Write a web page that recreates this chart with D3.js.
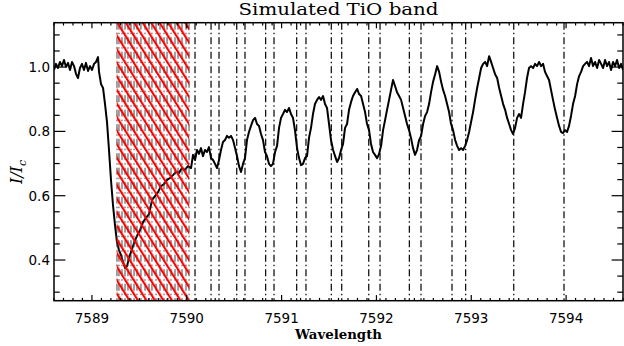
<!doctype html>
<head>
<style>
  body { margin: 0; background: #fff; }
  svg { display: block; }
  .tick-label { font-family: "DejaVu Sans", sans-serif; font-size: 13.5px; fill: #000; }
</style>
<script src="https://cdnjs.cloudflare.com/ajax/libs/d3/7.8.5/d3.min.js"></script>
</head>
<body>
<script>
// spectrum
var wave = [7588.600,7588.621,7588.642,7588.663,7588.684,7588.705,7588.727,7588.748,7588.769,7588.790,
  7588.811,7588.832,7588.853,7588.874,7588.895,7588.916,7588.937,7588.959,7588.980,7589.001,
  7589.022,7589.043,7589.064,7589.075,7589.096,7589.117,7589.138,7589.159,7589.180,7589.201,
  7589.222,7589.243,7589.264,7589.285,7589.306,7589.328,7589.349,7589.370,7589.391,7589.412,
  7589.444,7589.475,7589.507,7589.539,7589.570,7589.602,7589.634,7589.665,7589.697,7589.728,
  7589.760,7589.792,7589.823,7589.855,7589.887,7589.918,7589.950,7589.981,7590.013,7590.045,
  7590.066,7590.087,7590.108,7590.129,7590.150,7590.171,7590.192,7590.213,7590.234,7590.256,
  7590.277,7590.298,7590.319,7590.340,7590.361,7590.382,7590.403,7590.424,7590.445,7590.467,
  7590.488,7590.509,7590.530,7590.551,7590.572,7590.593,7590.614,7590.635,7590.656,7590.677,
  7590.699,7590.720,7590.741,7590.762,7590.783,7590.804,7590.825,7590.846,7590.867,7590.888,
  7590.909,7590.931,7590.952,7590.973,7590.994,7591.015,7591.036,7591.057,7591.078,7591.099,
  7591.120,7591.141,7591.163,7591.184,7591.205,7591.226,7591.247,7591.268,7591.289,7591.310,
  7591.331,7591.352,7591.374,7591.395,7591.416,7591.437,7591.458,7591.479,7591.500,7591.521,
  7591.543,7591.564,7591.585,7591.606,7591.627,7591.648,7591.669,7591.690,7591.711,7591.732,
  7591.753,7591.775,7591.796,7591.817,7591.838,7591.859,7591.880,7591.901,7591.922,7591.943,
  7591.964,7591.985,7592.007,7592.028,7592.049,7592.070,7592.091,7592.112,7592.133,7592.154,
  7592.175,7592.196,7592.217,7592.239,7592.260,7592.281,7592.302,7592.323,7592.344,7592.365,
  7592.386,7592.407,7592.428,7592.450,7592.471,7592.492,7592.513,7592.534,7592.555,7592.576,
  7592.597,7592.619,7592.640,7592.661,7592.682,7592.703,7592.724,7592.745,7592.766,7592.787,
  7592.808,7592.830,7592.851,7592.872,7592.893,7592.914,7592.935,7592.956,7592.977,7592.998,
  7593.019,7593.040,7593.062,7593.083,7593.104,7593.125,7593.146,7593.167,7593.188,7593.209,
  7593.230,7593.251,7593.273,7593.294,7593.315,7593.336,7593.357,7593.378,7593.399,7593.420,
  7593.441,7593.462,7593.483,7593.504,7593.525,7593.546,7593.567,7593.588,7593.609,7593.630,
  7593.652,7593.673,7593.694,7593.715,7593.736,7593.757,7593.778,7593.799,7593.820,7593.841,
  7593.862,7593.884,7593.905,7593.926,7593.947,7593.968,7593.989,7594.010,7594.031,7594.052,
  7594.073,7594.095,7594.116,7594.137,7594.158,7594.179,7594.200,7594.221,7594.242,7594.263,
  7594.284,7594.305,7594.327,7594.348,7594.369,7594.390,7594.411,7594.432,7594.453,7594.474,
  7594.495,7594.516,7594.537,7594.559,7594.580,7594.601];
var flux = [0.991,1.010,0.997,1.016,1.003,1.022,1.000,1.013,0.991,1.016,
  1.003,0.979,0.966,0.997,1.010,0.991,1.013,0.988,1.003,0.991,
  1.010,1.016,1.031,0.985,0.947,0.935,0.885,0.829,0.742,0.649,
  0.571,0.509,0.456,0.431,0.416,0.394,0.375,0.381,0.406,0.425,
  0.453,0.475,0.493,0.518,0.531,0.543,0.587,0.599,0.611,0.630,
  0.636,0.649,0.655,0.664,0.674,0.671,0.686,0.680,0.692,0.686,
  0.727,0.711,0.742,0.730,0.748,0.723,0.742,0.736,0.751,0.717,
  0.711,0.699,0.686,0.711,0.742,0.767,0.773,0.786,0.780,0.786,
  0.773,0.748,0.723,0.692,0.674,0.699,0.717,0.773,0.798,0.817,
  0.835,0.842,0.823,0.817,0.792,0.773,0.736,0.723,0.699,0.692,
  0.699,0.736,0.755,0.811,0.842,0.854,0.867,0.860,0.873,0.854,
  0.842,0.804,0.748,0.717,0.695,0.699,0.717,0.723,0.780,0.811,
  0.854,0.885,0.898,0.907,0.898,0.910,0.885,0.873,0.823,0.773,
  0.742,0.723,0.705,0.717,0.742,0.761,0.811,0.823,0.867,0.891,
  0.910,0.922,0.932,0.916,0.910,0.885,0.860,0.823,0.804,0.761,
  0.736,0.727,0.717,0.730,0.755,0.804,0.835,0.867,0.898,0.929,
  0.960,0.941,0.922,0.910,0.898,0.873,0.848,0.823,0.804,0.779,
  0.748,0.727,0.742,0.773,0.786,0.823,0.848,0.860,0.885,0.922,
  0.954,0.978,1.003,0.985,0.954,0.929,0.910,0.885,0.860,0.823,
  0.804,0.773,0.755,0.742,0.748,0.742,0.755,0.773,0.798,0.829,
  0.860,0.898,0.935,0.966,0.997,1.010,1.016,1.003,1.034,1.016,
  0.997,0.978,0.966,0.935,0.910,0.885,0.867,0.842,0.823,0.804,
  0.792,0.811,0.842,0.854,0.842,0.885,0.922,0.966,0.997,1.003,
  0.997,1.010,1.003,1.016,1.003,1.010,0.985,0.972,0.960,0.929,
  0.898,0.867,0.842,0.817,0.798,0.795,0.804,0.798,0.817,0.848,
  0.885,0.910,0.947,0.972,0.985,1.003,1.010,1.016,1.003,1.028,
  1.003,1.016,0.997,1.022,1.010,0.997,1.022,1.003,1.016,0.991,
  1.016,1.003,1.022,0.997,1.010,0.991];

// marked line positions (dash-dot)
var lineWaves = [7589.264,7589.285,7589.317,7589.349,7589.380,7589.412,7589.444,7589.475,
  7589.517,7589.560,7589.602,7589.633,7589.676,7589.718,7589.760,7589.792,7589.834,7589.876,
  7589.908,7589.950,7589.992,7590.024,
  7590.087,7590.256,7590.340,7590.527,7590.614,7590.832,7590.920,7591.159,7591.257,
  7591.524,7591.634,7591.919,7592.038,7592.347,7592.470,7592.797,7592.941,7593.448,7593.978];
var hatchRange = [7589.262, 7590.025];

var xTicks = [7589, 7590, 7591, 7592, 7593, 7594];
var yTicks = [0.4, 0.6, 0.8, 1.0];

var W = 624, H = 346;
var margin = {left: 54, right: 1, top: 22.7, bottom: 45.3};

var x = d3.scaleLinear().domain([7588.6, 7594.6]).range([margin.left, W - margin.right]);
var y = d3.scaleLinear().domain([0.2735, 1.138]).range([H - margin.bottom, margin.top]);

var svg = d3.select("body").append("svg").attr("width", W).attr("height", H);

var defs = svg.append("defs");
defs.append("clipPath").attr("id", "plotclip")
  .append("rect")
    .attr("x", x.range()[0]).attr("y", y.range()[1])
    .attr("width", x.range()[1] - x.range()[0])
    .attr("height", y.range()[0] - y.range()[1]);

var pat = defs.append("pattern")
  .attr("id", "hatch")
  .attr("patternUnits", "userSpaceOnUse")
  .attr("width", 7.2).attr("height", 20)
  .attr("patternTransform", "rotate(-32)");
pat.append("line")
  .attr("x1", 1).attr("x2", 1).attr("y1", 0).attr("y2", 20)
  .attr("stroke", "#ff0000").attr("stroke-width", 2.2);

var plot = svg.append("g").attr("clip-path", "url(#plotclip)");

// spectrum
var pts = wave.map(function(w, i) { return [w, flux[i]]; });
plot.append("path")
  .datum(pts)
  .attr("fill", "none")
  .attr("stroke", "#000")
  .attr("stroke-width", 2)
  .attr("stroke-linejoin", "round")
  .attr("d", d3.line().x(function(d) { return x(d[0]); }).y(function(d) { return y(d[1]); }));

function inHatch(d) { return d >= hatchRange[0] && d <= hatchRange[1]; }

// dash-dot lines
plot.selectAll(".vline")
  .data(lineWaves).enter()
  .append("line")
    .attr("class", "vline")
    .attr("x1", function(d) { return x(d); })
    .attr("x2", function(d) { return x(d); })
    .attr("y1", y.range()[1]).attr("y2", y.range()[0])
    .attr("stroke", function(d) { return inHatch(d) ? "#444" : "#000"; })
    .attr("stroke-width", function(d) { return inHatch(d) ? 1 : 1.2; })
    .attr("stroke-dasharray", "7,3,1.5,3");

// hatched band
plot.append("rect")
  .attr("x", x(hatchRange[0]))
  .attr("y", y.range()[1])
  .attr("width", x(hatchRange[1]) - x(hatchRange[0]))
  .attr("height", y.range()[0] - y.range()[1])
  .attr("fill", "url(#hatch)");

// frame + ticks (IDL style, inward)
var x0 = x.range()[0], x1 = x.range()[1], yb = y.range()[0], yt = y.range()[1];
svg.append("rect")
  .attr("x", x0).attr("y", yt).attr("width", x1 - x0).attr("height", yb - yt)
  .attr("fill", "none").attr("stroke", "#000").attr("stroke-width", 1.5);

var xMinor = d3.range(7586, 7596, 0.1).filter(function(v) { return v >= 7588.6 && v <= 7594.6; });
var yMinor = d3.range(0.3, 1.15, 0.05).filter(function(v) { return v >= 0.2735 && v <= 1.138; });
var tk = svg.append("g").attr("stroke", "#000").attr("stroke-width", 1.2);

xMinor.forEach(function(v) {
  var major = Math.abs(v - Math.round(v)) < 1e-6;
  var len = major ? 5.6 : 2.8;
  tk.append("line").attr("x1", x(v)).attr("x2", x(v)).attr("y1", yb).attr("y2", yb - len);
  tk.append("line").attr("x1", x(v)).attr("x2", x(v)).attr("y1", yt).attr("y2", yt + len);
});
yMinor.forEach(function(v) {
  var major = yTicks.some(function(t) { return Math.abs(t - v) < 1e-6; });
  var len = major ? 11.4 : 5.7;
  tk.append("line").attr("x1", x0).attr("x2", x0 + len).attr("y1", y(v)).attr("y2", y(v));
  tk.append("line").attr("x1", x1).attr("x2", x1 - len).attr("y1", y(v)).attr("y2", y(v));
});

svg.selectAll(".xl")
  .data(xTicks).enter()
  .append("text")
    .attr("class", "tick-label")
    .attr("x", function(d) { return x(d); })
    .attr("y", 323)
    .attr("text-anchor", "middle")
    .text(function(d) { return d; });

svg.selectAll(".yl")
  .data(yTicks).enter()
  .append("text")
    .attr("class", "tick-label")
    .attr("x", 50)
    .attr("y", function(d) { return y(d); })
    .attr("dy", "0.36em")
    .attr("text-anchor", "end")
    .text(function(d) { return d.toFixed(1); });

// title and axis titles
svg.append("text")
  .attr("x", (x0 + x1) / 2)
  .attr("y", 15)
  .attr("text-anchor", "middle")
  .attr("textLength", 200)
  .attr("lengthAdjust", "spacingAndGlyphs")
  .style("font-family", "DejaVu Serif, serif")
  .style("font-size", "16px")
  .text("Simulated TiO band");

svg.append("text")
  .attr("x", (x0 + x1) / 2)
  .attr("y", 339)
  .attr("text-anchor", "middle")
  .attr("textLength", 87)
  .attr("lengthAdjust", "spacingAndGlyphs")
  .style("font-family", "DejaVu Serif, serif")
  .style("font-weight", "bold")
  .style("font-size", "12.5px")
  .text("Wavelength");

var ylab = svg.append("text")
  .attr("transform", "translate(22," + 172 + ") rotate(-90)")
  .attr("text-anchor", "middle")
  .style("font-family", "DejaVu Serif, serif")
  .style("font-style", "italic")
  .style("font-size", "16px");
ylab.append("tspan").text("I/I");
ylab.append("tspan").attr("dy", 4).style("font-size", "11px").text("c");
</script>
</body>
